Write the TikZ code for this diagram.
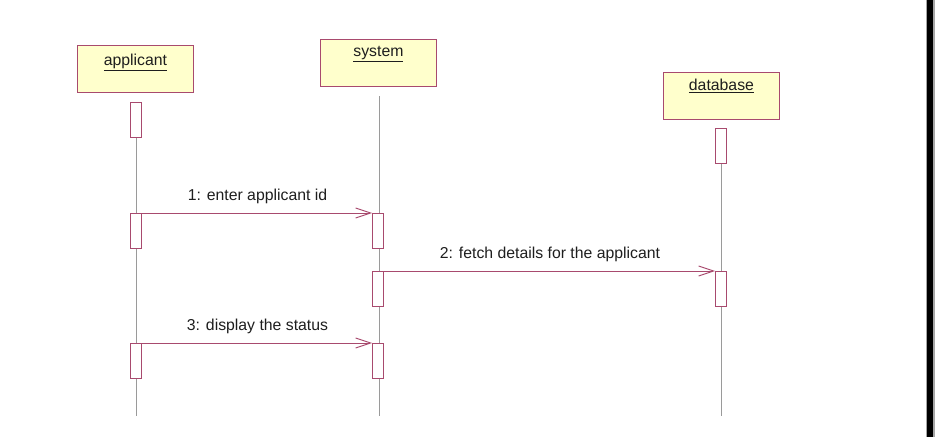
\documentclass[tikz,border=0pt]{standalone}
\usepackage{fontspec}
\setmainfont{Liberation Sans}
\usetikzlibrary{arrows.meta}
\definecolor{boxfill}{HTML}{FFFFCC}
\definecolor{maroon}{HTML}{A84A6E}
\definecolor{lifegray}{HTML}{9A9A9A}
\definecolor{txt}{HTML}{1E1E1E}
\tikzset{
  x=1pt, y=-1pt,
  actor/.style={draw=maroon, fill=boxfill, line width=0.9pt, minimum width=116pt, minimum height=47pt, inner sep=0pt, anchor=north west},
  actortext/.style={font=\fontsize{15.8}{18}\selectfont, text=txt, anchor=north, inner sep=0pt},
  act/.style={draw=maroon, fill=white, line width=0.9pt, minimum width=11pt, minimum height=35pt, inner sep=0pt, anchor=north},
  lifeline/.style={draw=lifegray, line width=0.8pt},
  msg/.style={draw=maroon, line width=0.9pt, -{Straight Barb[length=15pt,width=10pt,line width=0.9pt]}},
  msgtext/.style={font=\fontsize{15.8}{18}\selectfont, text=txt, inner sep=0pt},
}
\begin{document}
\begin{tikzpicture}
\useasboundingbox (0,0) rectangle (942,437);
% right border bar
\fill[black!35] (925.5,0) rectangle (934.5,437);
\fill[black] (927,0) rectangle (933,437);
% actor boxes
\node[actor] (appl) at (77,45) {};
\node[actortext] (applt) at ([yshift=-9pt]appl.north) {\underline{applicant}};
\node[actor] (sys) at (320,39) {};
\node[actortext] (syst) at ([yshift=-7pt]sys.north) {\underline{system}};
\node[actor] (db) at (663,72) {};
\node[actortext] (dbt) at ([yshift=-7pt]db.north) {\underline{database}};
% lifeline ends
\coordinate (applS) at (136,102);
\coordinate (applE) at (136,416);
\coordinate (sysS) at (379,96);
\coordinate (sysE) at (379,416);
\coordinate (dbS) at (721,128);
\coordinate (dbE) at (721,416);
\draw[lifeline] (applS) -- (applE);
\draw[lifeline] (sysS) -- (sysE);
\draw[lifeline] (dbS) -- (dbE);
% activations
\node[act] (a0) at (136,102) {};
\node[act] (d0) at (721,128) {};
\node[act] (a1) at (136,213) {};
\node[act] (s1) at (378,213) {};
\node[act] (s2) at (378,271) {};
\node[act] (d2) at (721,271) {};
\node[act] (a3) at (136,343) {};
\node[act] (s3) at (378,343) {};
% messages
\draw[msg] (a1.north east) -- (s1.north west);
\draw[msg] (s2.north east) -- (d2.north west);
\draw[msg] (a3.north east) -- (s3.north west);
\node[msgtext] (m1) at (257.5,196) {1: enter applicant id};
\node[msgtext] (m2) at (550,254) {2: fetch details for the applicant};
\node[msgtext] (m3) at (257.5,326) {3: display the status};
\end{tikzpicture}
\end{document}
